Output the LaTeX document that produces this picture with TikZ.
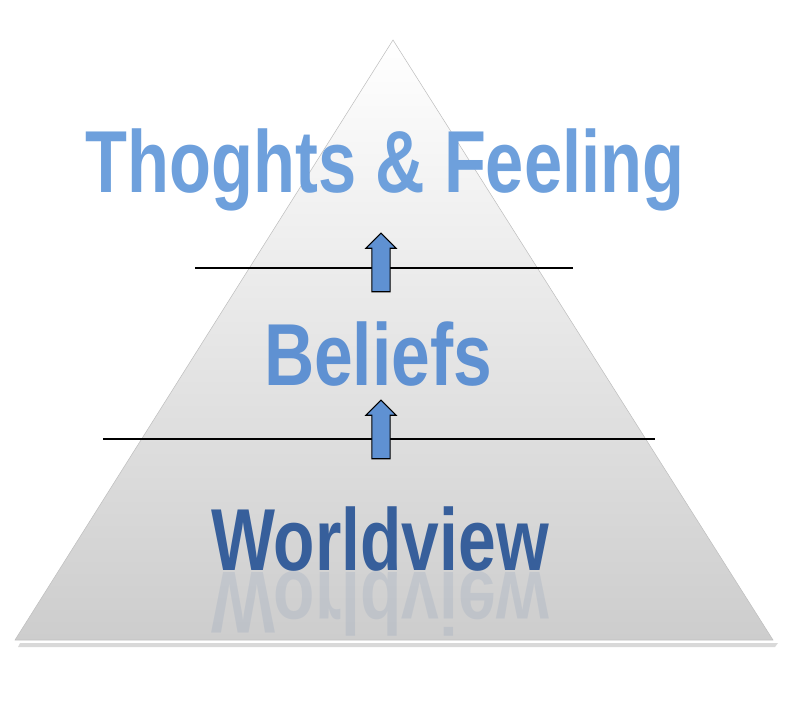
\documentclass[tikz,border=0pt]{standalone}
\usepackage{fontspec}
\setmainfont{Liberation Sans}
\usetikzlibrary{positioning,shapes.arrows}
\definecolor{lightblue}{RGB}{110,160,220}
\definecolor{midblue}{RGB}{95,145,210}
\definecolor{darkblue}{RGB}{55,95,155}
\definecolor{pyrgrey}{RGB}{205,205,205}
\begin{document}
\begin{tikzpicture}[x=0.75pt,y=-0.75pt]
	\tikzstyle{level} = [font=\fontsize{66}{66}\selectfont\bfseries, inner sep=0pt, anchor=base, transform shape];
	\tikzstyle{uparrow} = [single arrow, draw=black, thick, fill=midblue, rotate=90, minimum height=44pt, single arrow head extend=4.5pt, inner sep=0pt];
	\tikzstyle{divider} = [draw=black, thick];
	
	\useasboundingbox (0,0) rectangle (800,713);
	\coordinate (apex) at (393,40);
	\coordinate (baseL) at (15,640);
	\coordinate (baseR) at (773,640);
	\fill[black!15] (20,643) -- (778,643) -- (775,647) -- (18,647) -- cycle;
	\shade[top color=white, bottom color=pyrgrey, draw=black!25] (apex) -- (baseR) -- (baseL) -- cycle;
	
	\draw[divider] (195,268) -- (573,268);
	\draw[divider] (103,439) -- (655,439);
	
	\node[uparrow] (arrow1) at (381,267) {\rule{0pt}{13pt}};
	\node[uparrow] (arrow2) at (381,434) {\rule{0pt}{13pt}};
	
	\node[level, text=lightblue, xscale=0.78] (thoughts) at (385,193) {Thoghts \& Feeling};
	\node[level, text=midblue, xscale=0.79] (beliefs) at (378,385) {Beliefs};
	\node[level, text=darkblue, xscale=0.77] (worldview) at (380,570) {Worldview};
	\node[level, text=darkblue, xscale=0.77, yscale=-1, opacity=0.1] (mirror) at (380,572) {Worldview};
\end{tikzpicture}
\end{document}
